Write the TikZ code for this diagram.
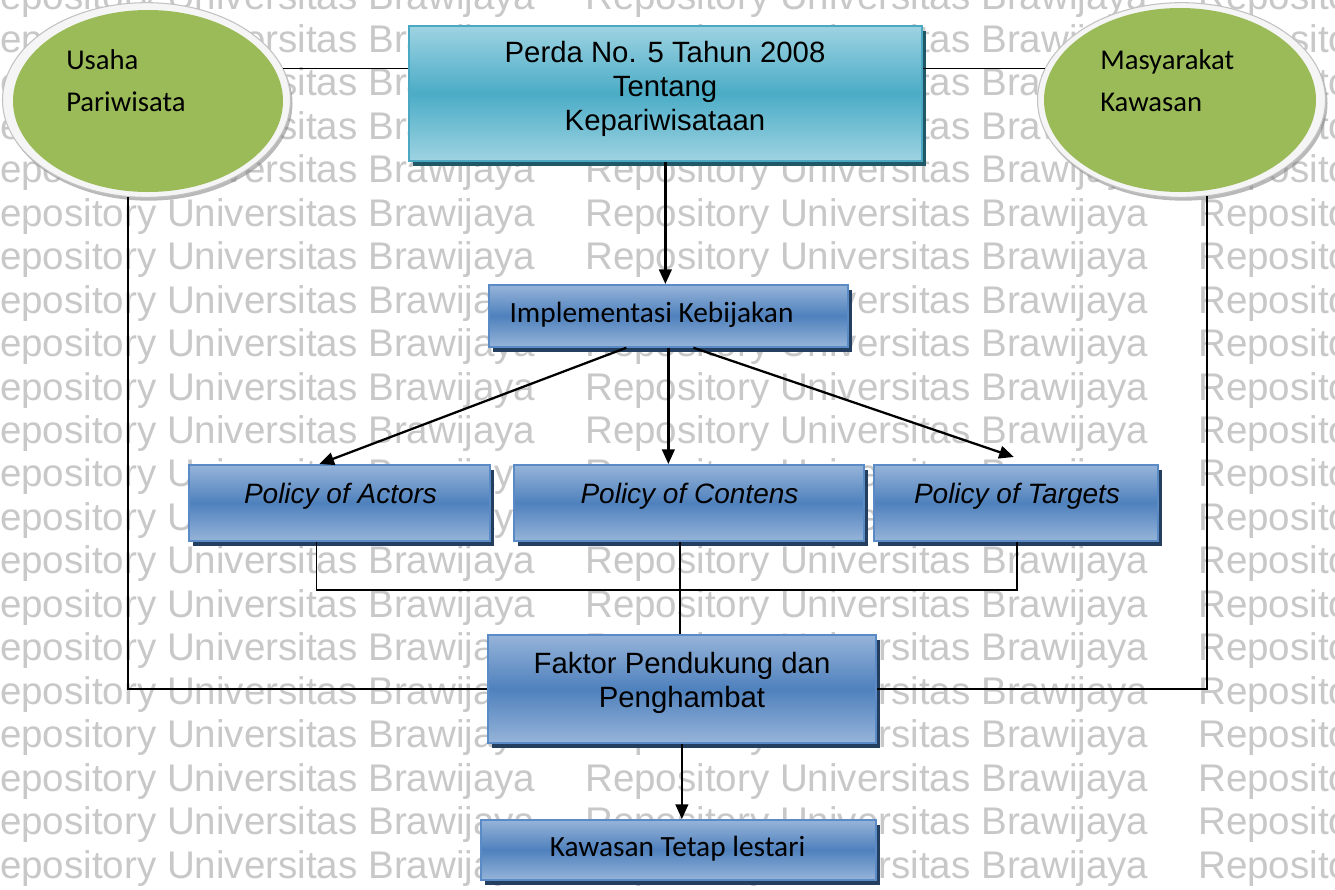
\documentclass[tikz,border=0pt]{standalone}
\usepackage{fontspec}
\setmainfont{Liberation Sans}
\newfontfamily\calfont{Carlito}
\usetikzlibrary{arrows.meta,shadows,shapes.geometric,calc}
\definecolor{cyanmid}{HTML}{4BACC6}
\definecolor{cyanlight}{HTML}{9ED3E2}
\definecolor{cyanedge}{HTML}{4AA8C2}
\definecolor{cyanshadow}{HTML}{205867}
\definecolor{bluemid}{HTML}{4F81BD}
\definecolor{bluelight}{HTML}{96B4D9}
\definecolor{blueedge}{HTML}{5B8BC7}
\definecolor{blueshadow}{HTML}{233E5F}
\definecolor{leaf}{HTML}{9BBB59}
\definecolor{rimedge}{HTML}{C2C2C2}
\definecolor{wmgray}{HTML}{C8C8C8}
\tikzset{
  boxbase/.style={rectangle, anchor=north west, inner sep=0pt, line width=1.3pt},
  cyanbox/.style={boxbase, draw=cyanedge, top color=cyanlight, bottom color=cyanlight, middle color=cyanmid,
     drop shadow={shadow xshift=3pt, shadow yshift=-3.5pt, fill=cyanshadow, opacity=1}},
  bluebox/.style={boxbase, draw=blueedge, top color=bluelight, bottom color=bluelight, middle color=bluemid,
     drop shadow={shadow xshift=3pt, shadow yshift=-3.5pt, fill=blueshadow, opacity=1}},
  rim/.style={ellipse, inner sep=0pt, draw=rimedge, line width=0.8pt, fill=black!4,
     drop shadow={shadow xshift=1.5pt, shadow yshift=-2.5pt, fill=black!50, opacity=.55}},
  leafy/.style={ellipse, inner sep=0pt, fill=leaf},
  arialtxt/.style={inner sep=0pt, font=\fontsize{22}{25.5}\selectfont, align=center},
  itxt/.style={inner sep=0pt, anchor=base, font=\fontsize{21}{25}\selectfont\itshape},
  caltxt/.style={inner sep=0pt, anchor=base, font=\calfont\fontsize{22}{26}\selectfont},
  ovaltxt/.style={inner sep=0pt, anchor=west, align=left, font=\calfont\fontsize{21.5}{31.5}\selectfont},
  link/.style={line width=1.3pt},
  arrowline/.style={line width=1.7pt, -{Triangle[length=11pt,width=9.5pt]}},
  wm/.style={anchor=base west, inner sep=0pt, text=wmgray, font=\fontsize{28.9}{34}\selectfont}
}
\begin{document}
\begin{tikzpicture}[x=0.75pt,y=-0.75pt]
\useasboundingbox (0,0) rectangle (1335,889);
\clip (0,0) rectangle (1335,889);
\fill[white] (0,0) rectangle (1335,889);
% watermark
\foreach \k in {0,...,20}{
  \foreach \xx [count=\i] in {-28,585,1198}{
    \node[wm] (wm-\k-\i) at (\xx,{878-43.45*\k}) {Repository Universitas Brawijaya};
  }
}
% ovals
\node[rim, minimum width=216pt, minimum height=146pt] (usaha) at (146.5,100) {};
\node[leafy, minimum width=202.5pt, minimum height=136.5pt] (usahaIn) at (148,101) {};
\node[rim, minimum width=216pt, minimum height=146pt] (masy) at (1181.5,100) {};
\node[leafy, minimum width=204pt, minimum height=138pt] (masyIn) at (1180,100) {};
\node[ovaltxt] (usahaT) at (66,81) {Usaha\\Pariwisata};
\node[ovaltxt] (masyT) at (1100,81) {Masyarakat\\Kawasan};
% boxes
\node[cyanbox, minimum width=384.75pt, minimum height=101.25pt] (perda) at (408,25) {};
\node[bluebox, minimum width=269.25pt, minimum height=46.5pt] (impl) at (488,284) {};
\node[bluebox, minimum width=225.75pt, minimum height=57pt] (actors) at (188,464) {};
\node[bluebox, minimum width=262.5pt, minimum height=57pt] (contens) at (513,464) {};
\node[bluebox, minimum width=213pt, minimum height=57pt] (targets) at (873,464) {};
\node[bluebox, minimum width=291pt, minimum height=81pt] (faktor) at (487,634) {};
\node[bluebox, minimum width=296.25pt, minimum height=45pt] (kawasan) at (480,819) {};
% texts
\node[arialtxt] (perdaT) at (665,89) {Perda No. 5 Tahun 2008\\Tentang\\Kepariwisataan};
\node[caltxt] (implT) at (651.5,322.5) {Implementasi Kebijakan};
\node[itxt] (actorsT) at (340.5,503) {Policy of Actors};
\node[itxt] (contensT) at (689.5,503) {Policy of Contens};
\node[itxt] (targetsT) at (1017,503) {Policy of Targets};
\node[arialtxt] (faktorT) at (682,683) {Faktor Pendukung dan\\Penghambat};
\node[caltxt] (kawasanT) at (677.5,856.5) {Kawasan Tetap lestari};
% connectors
\draw[link] (usaha.13) -- (usaha.13 -| perda.west);
\draw[link] (masy.167) -- (masy.167 -| perda.east);
\draw[link] (usaha.259) |- (faktor.west);
\draw[link] (masy.285) |- (faktor.east);
\draw[arrowline] (perda.south) -- (perda.south |- impl.north);
\draw[arrowline] ($(impl.south)+(-42,0)$) -- ($(actors.north)+(-20,0)$);
\draw[arrowline] (impl.south) -- (impl.south |- contens.north);
\draw[arrowline] ($(impl.south)+(25,0)$) -- ($(targets.north)+(-2,-7)$);
\draw[link] ($(actors.south)+(-23,0)$) -- ++(0,48) -| ($(targets.south)+(1,0)$);
\coordinate (cf) at ($(contens.south)+(-9,0)$);
\draw[link] (cf) -- (cf |- faktor.north);
\draw[arrowline] (faktor.south) -- (faktor.south |- kawasan.north);
\end{tikzpicture}
\end{document}
